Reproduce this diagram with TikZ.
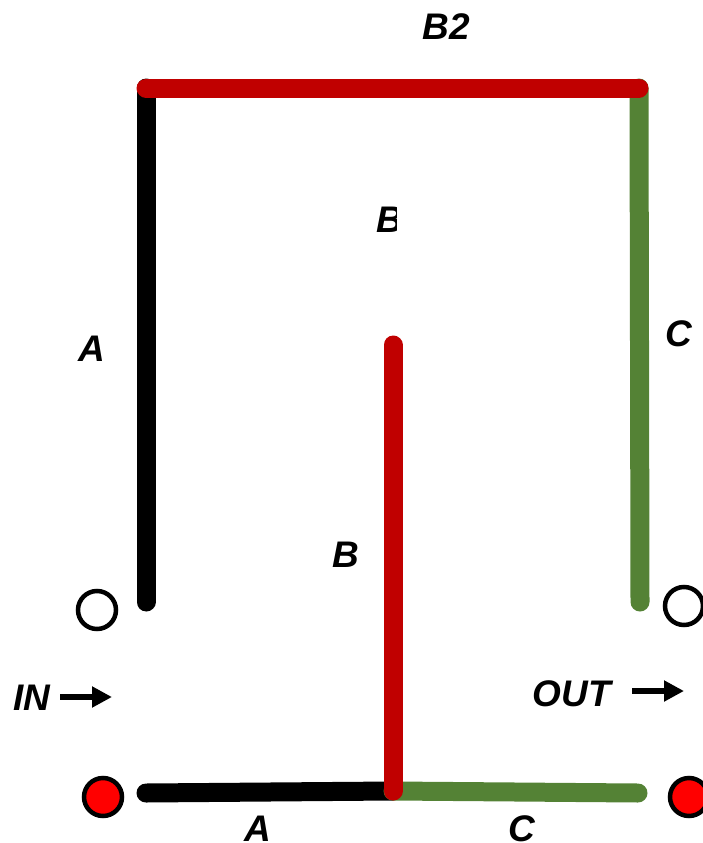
\documentclass[tikz,border=0pt]{standalone}
\usepackage{fontspec}
\setmainfont{Liberation Sans}
\usetikzlibrary{arrows.meta}
\definecolor{wred}{RGB}{192,0,0}
\definecolor{wgreen}{RGB}{84,130,53}
\tikzset{
  wire/.style={line width=19pt, line cap=round},
  lbl/.style={font=\fontsize{37}{40}\selectfont\bfseries\itshape, inner sep=0pt},
  term/.style={circle, draw=black, line width=4.5pt, minimum size=38pt, inner sep=0pt},
  flow/.style={line width=6pt, -{Triangle[length=20pt,width=20pt]}}
}
\begin{document}
\begin{tikzpicture}[x=1pt,y=-1pt]
\useasboundingbox (0,0) rectangle (703,843);
\coordinate (tl) at (146,88);
\coordinate (tr) at (639,88);
\coordinate (al) at (146,602);
\coordinate (cr) at (640,602);
\coordinate (bl) at (146,793);
\coordinate (bm) at (393,791);
\coordinate (br) at (638,793);
\coordinate (bt) at (393,345);
% wires
\draw[wire, black] (al) -- (tl);
\draw[wire, wgreen] (tr) -- (cr);
\draw[wire, wred] (tl) -- (tr);
\draw[wire, black] (bl) -- (bm);
\draw[wire, wgreen] (bm) -- (br);
\draw[wire, wred] (bt) -- (bm);
% terminals
\node[term, fill=white] (t1) at (97,610) {};
\node[term, fill=white] (t2) at (684,606) {};
\node[term, fill=red] (t3) at (103,797) {};
\node[term, fill=red] (t4) at (689,797) {};
% labels
\node[lbl] (lb2) at (446,27) {B2};
\node[lbl] (la1) at (92,349) {A};
\node[lbl] (lc1) at (679,334) {C};
\node[lbl] (lb) at (346,555) {B};
\node[lbl] (la2) at (258,829) {A};
\node[lbl] (lc2) at (522,829) {C};
\node[lbl] (lin) at (32,698) {IN};
\node[lbl] (lout) at (572,694) {OUT};
\begin{scope}
\clip (300,180) rectangle (396,260);
\node[lbl, anchor=west] (lb1) at (376,220) {B1};
\end{scope}
% arrows
\coordinate (ia) at (60,697);
\coordinate (ib) at (112,697);
\coordinate (oa) at (632,691);
\coordinate (ob) at (684,691);
\draw[flow] (ia) -- (ib);
\draw[flow] (oa) -- (ob);
\end{tikzpicture}
\end{document}
